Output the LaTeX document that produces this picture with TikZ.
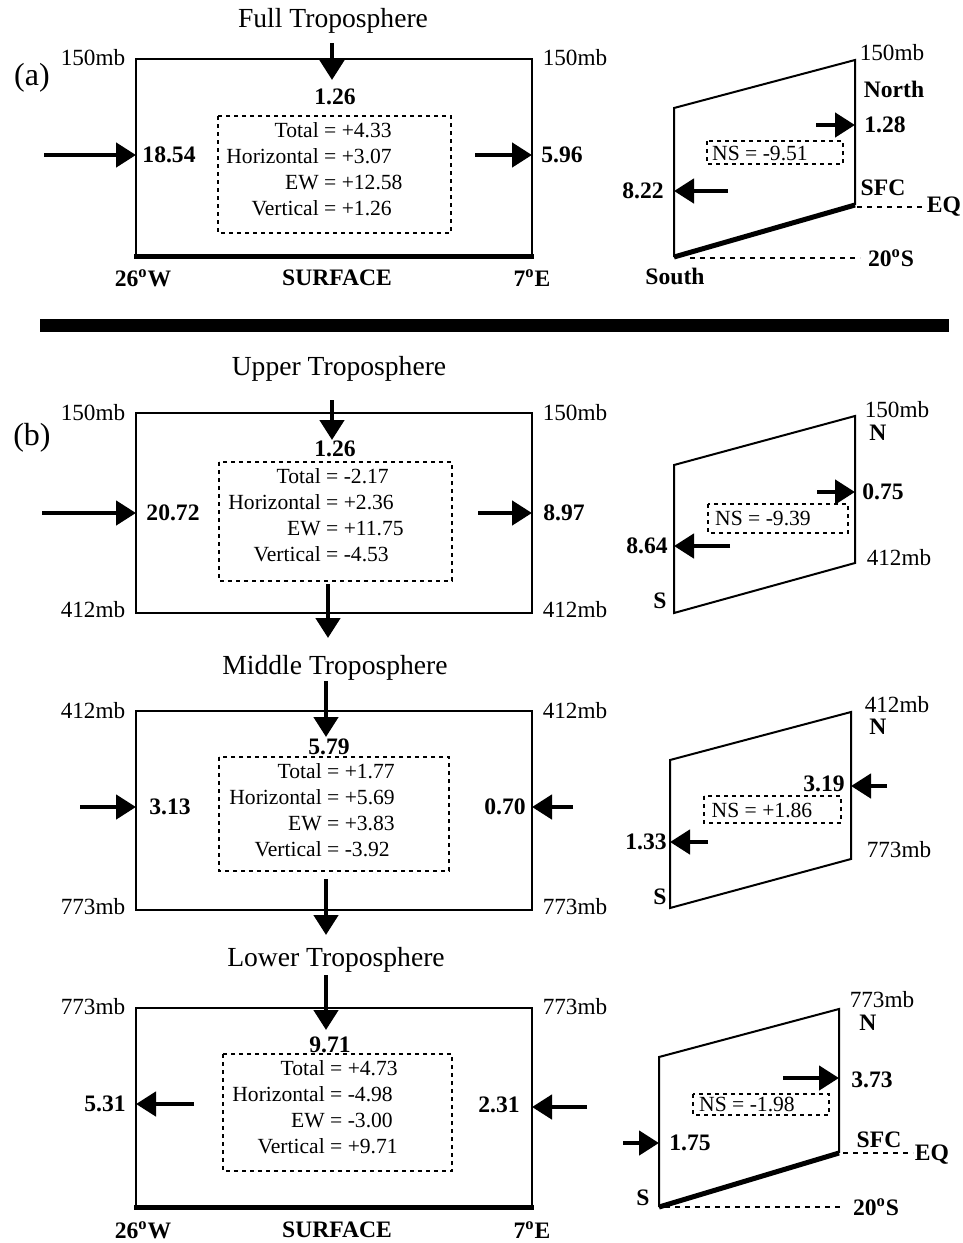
\documentclass[tikz,border=0pt]{standalone}
\usepackage{fontspec}
\setmainfont{Liberation Serif}
\usetikzlibrary{arrows.meta}

\begin{document}
\begin{tikzpicture}[
  x=0.5pt, y=-0.5pt,
  lbl/.style={font=\fontsize{11.6}{13}\selectfont, inner sep=0pt},
  num/.style={font=\fontsize{11.8}{13}\selectfont\bfseries, inner sep=0pt},
  ttl/.style={font=\fontsize{13.8}{16}\selectfont, inner sep=0pt},
  tag/.style={font=\fontsize{16}{18}\selectfont, inner sep=0pt},
  budget/.style={font=\fontsize{10.8}{13}\selectfont, inner sep=0pt},
  wall/.style={line width=1pt},
  sfc/.style={line width=2.5pt},
  dbox/.style={dash pattern=on 2pt off 2pt, line width=0.7pt},
  guide/.style={dash pattern=on 2.5pt off 2.5pt, line width=0.6pt},
  flux/.style={-{Triangle[length=10pt,width=12pt]}, line width=2.3pt}
]
\useasboundingbox (0,0) rectangle (963,1243);

% (a) full troposphere
\node[ttl] (ttl-a) at (333,21) {Full Troposphere};
\node[tag] (tag-a) at (32,78) {(a)};
\node[lbl] (a-tl) at (93,58) {150mb};
\node[lbl] (a-tr) at (575,58) {150mb};
\draw[wall] (136,256) -- (136,59) -- (532,59) -- (532,256);
\draw[sfc] (134,256) -- (534,256);
\coordinate (a-v0) at (332,43);
\coordinate (a-v1) at (332,80);
\draw[flux] (a-v0) -- (a-v1);
\node[num] (a-v) at (335,97) {1.26};
\draw[dbox] (218,116) rectangle (451,233);
\node[budget, anchor=west] (a-bud) at (226,171.5) {\begin{tabular}{@{}r@{\ =\ }l@{}}
  Total & +4.33\\ Horizontal & +3.07\\ EW & +12.58\\ Vertical & +1.26\end{tabular}};
\coordinate (a-w0) at (44,155);
\coordinate (a-w1) at (136,155);
\draw[flux] (a-w0) -- (a-w1);
\node[num] (a-w) at (169,155) {18.54};
\coordinate (a-e0) at (475,155);
\coordinate (a-e1) at (532,155);
\draw[flux] (a-e0) -- (a-e1);
\node[num] (a-e) at (562,155) {5.96};
\node[num] (a-lon1) at (143,278) {26\textsuperscript{o}W};
\node[num] (a-surf) at (337,278) {SURFACE};
\node[num] (a-lon2) at (532,278) {7\textsuperscript{o}E};

% (a) meridional section
\draw[wall] (674,257) -- (674,108) -- (855,60) -- (855,205);
\draw[sfc] (674,257) -- (855,205);
\node[lbl] (as-top) at (892,53) {150mb};
\node[num] (as-n) at (894,89) {North};
\coordinate (as-n0) at (816,125);
\coordinate (as-n1) at (855,125);
\draw[flux] (as-n0) -- (as-n1);
\node[num] (as-nv) at (885,125) {1.28};
\draw[dbox] (707,141) rectangle (843,164);
\node[budget] (as-ns) at (760,153) {NS = -9.51};
\coordinate (as-s0) at (728,191);
\coordinate (as-s1) at (674,191);
\draw[flux] (as-s0) -- (as-s1);
\node[num] (as-sv) at (643,191) {8.22};
\node[num] (as-sfc) at (883,188) {SFC};
\draw[guide] (857,207) -- (925,207);
\node[num] (as-eq) at (944,207) {EQ};
\draw[guide] (690,258) -- (860,258);
\node[num] (as-lat) at (891,258) {20\textsuperscript{o}S};
\node[num] (as-s) at (675,276) {South};

\draw[line width=6.5pt] (40,325) -- (949,325);

% (b) upper troposphere
\node[ttl] (ttl-u) at (339,369) {Upper Troposphere};
\node[tag] (tag-b) at (32,438) {(b)};
\node[lbl] (u-tl) at (93,413) {150mb};
\node[lbl] (u-tr) at (575,413) {150mb};
\node[lbl] (u-bl) at (93,610) {412mb};
\node[lbl] (u-br) at (575,610) {412mb};
\draw[wall] (136,413) rectangle (532,613);
\coordinate (u-v0) at (332,400);
\coordinate (u-v1) at (332,440);
\draw[flux] (u-v0) -- (u-v1);
\node[num] (u-v) at (335,449) {1.26};
\draw[dbox] (219,462) rectangle (452,581);
\node[budget, anchor=west] (u-bud) at (228,517.5) {\begin{tabular}{@{}r@{\ =\ }l@{}}
  Total & -2.17\\ Horizontal & +2.36\\ EW & +11.75\\ Vertical & -4.53\end{tabular}};
\coordinate (u-w0) at (42,513);
\coordinate (u-w1) at (136,513);
\draw[flux] (u-w0) -- (u-w1);
\node[num] (u-w) at (173,513) {20.72};
\coordinate (u-e0) at (478,513);
\coordinate (u-e1) at (532,513);
\draw[flux] (u-e0) -- (u-e1);
\node[num] (u-e) at (564,513) {8.97};
\coordinate (u-d0) at (328,584);
\coordinate (u-d1) at (328,638);
\draw[flux] (u-d0) -- (u-d1);

\draw[wall] (674,465) -- (855,416) -- (855,563) -- (674,613) -- cycle;
\node[lbl] (us-top) at (897,410) {150mb};
\node[num] (us-n) at (878,433) {N};
\coordinate (us-n0) at (817,492);
\coordinate (us-n1) at (855,492);
\draw[flux] (us-n0) -- (us-n1);
\node[num] (us-nv) at (883,492) {0.75};
\draw[dbox] (708,504) rectangle (848,533);
\node[budget] (us-ns) at (763,518) {NS = -9.39};
\coordinate (us-s0) at (730,546);
\coordinate (us-s1) at (674,546);
\draw[flux] (us-s0) -- (us-s1);
\node[num] (us-sv) at (647,546) {8.64};
\node[lbl] (us-bot) at (899,558) {412mb};
\node[num] (us-s) at (660,601) {S};

% (b) middle troposphere
\node[ttl] (ttl-m) at (335,668) {Middle Troposphere};
\node[lbl] (m-tl) at (93,711) {412mb};
\node[lbl] (m-tr) at (575,711) {412mb};
\node[lbl] (m-bl) at (93,907) {773mb};
\node[lbl] (m-br) at (575,907) {773mb};
\draw[wall] (136,711) rectangle (532,910);
\coordinate (m-v0) at (326,681);
\coordinate (m-v1) at (326,737);
\draw[flux] (m-v0) -- (m-v1);
\node[num] (m-v) at (329,747) {5.79};
\draw[dbox] (219,757) rectangle (449,871);
\node[budget, anchor=west] (m-bud) at (229,812.5) {\begin{tabular}{@{}r@{\ =\ }l@{}}
  Total & +1.77\\ Horizontal & +5.69\\ EW & +3.83\\ Vertical & -3.92\end{tabular}};
\coordinate (m-w0) at (80,807);
\coordinate (m-w1) at (136,807);
\draw[flux] (m-w0) -- (m-w1);
\node[num] (m-w) at (170,807) {3.13};
\coordinate (m-e0) at (573,807);
\coordinate (m-e1) at (532,807);
\draw[flux] (m-e0) -- (m-e1);
\node[num] (m-e) at (505,807) {0.70};
\coordinate (m-d0) at (326,879);
\coordinate (m-d1) at (326,935);
\draw[flux] (m-d0) -- (m-d1);

\draw[wall] (670,760) -- (851,712) -- (851,859) -- (670,908) -- cycle;
\node[lbl] (ms-top) at (897,705) {412mb};
\node[num] (ms-n) at (878,727) {N};
\coordinate (ms-n0) at (887,786);
\coordinate (ms-n1) at (851,786);
\draw[flux] (ms-n0) -- (ms-n1);
\node[num] (ms-nv) at (824,784) {3.19};
\draw[dbox] (704,796) rectangle (841,823);
\node[budget] (ms-ns) at (762,810) {NS = +1.86};
\coordinate (ms-s0) at (708,842);
\coordinate (ms-s1) at (670,842);
\draw[flux] (ms-s0) -- (ms-s1);
\node[num] (ms-sv) at (646,842) {1.33};
\node[lbl] (ms-bot) at (899,850) {773mb};
\node[num] (ms-s) at (660,897) {S};

% (b) lower troposphere
\node[ttl] (ttl-l) at (336,960) {Lower Troposphere};
\node[lbl] (l-tl) at (93,1007) {773mb};
\node[lbl] (l-tr) at (575,1007) {773mb};
\draw[wall] (136,1207) -- (136,1008) -- (532,1008) -- (532,1207);
\draw[sfc] (134,1207) -- (534,1207);
\coordinate (l-v0) at (326,975);
\coordinate (l-v1) at (326,1030);
\draw[flux] (l-v0) -- (l-v1);
\node[num] (l-v) at (330,1045) {9.71};
\draw[dbox] (223,1054) rectangle (452,1171);
\node[budget, anchor=west] (l-bud) at (232,1109) {\begin{tabular}{@{}r@{\ =\ }l@{}}
  Total & +4.73\\ Horizontal & -4.98\\ EW & -3.00\\ Vertical & +9.71\end{tabular}};
\coordinate (l-w0) at (194,1104);
\coordinate (l-w1) at (136,1104);
\draw[flux] (l-w0) -- (l-w1);
\node[num] (l-w) at (105,1104) {5.31};
\coordinate (l-e0) at (587,1107);
\coordinate (l-e1) at (532,1107);
\draw[flux] (l-e0) -- (l-e1);
\node[num] (l-e) at (499,1105) {2.31};
\node[num] (l-lon1) at (143,1230) {26\textsuperscript{o}W};
\node[num] (l-surf) at (337,1230) {SURFACE};
\node[num] (l-lon2) at (532,1230) {7\textsuperscript{o}E};

\draw[wall] (659,1207) -- (659,1057) -- (839,1009) -- (839,1153);
\draw[sfc] (659,1207) -- (839,1153);
\node[lbl] (ls-top) at (882,1000) {773mb};
\node[num] (ls-n) at (868,1023) {N};
\coordinate (ls-n0) at (783,1078);
\coordinate (ls-n1) at (839,1078);
\draw[flux] (ls-n0) -- (ls-n1);
\node[num] (ls-nv) at (872,1080) {3.73};
\draw[dbox] (693,1094) rectangle (829,1115);
\node[budget] (ls-ns) at (747,1104) {NS = -1.98};
\coordinate (ls-s0) at (623,1143);
\coordinate (ls-s1) at (659,1143);
\draw[flux] (ls-s0) -- (ls-s1);
\node[num] (ls-sv) at (690,1143) {1.75};
\node[num] (ls-sfc) at (879,1140) {SFC};
\draw[guide] (843,1153) -- (913,1153);
\node[num] (ls-eq) at (932,1155) {EQ};
\draw[guide] (665,1207) -- (840,1207);
\node[num] (ls-lat) at (876,1207) {20\textsuperscript{o}S};
\node[num] (ls-s) at (643,1198) {S};
\end{tikzpicture}
\end{document}
